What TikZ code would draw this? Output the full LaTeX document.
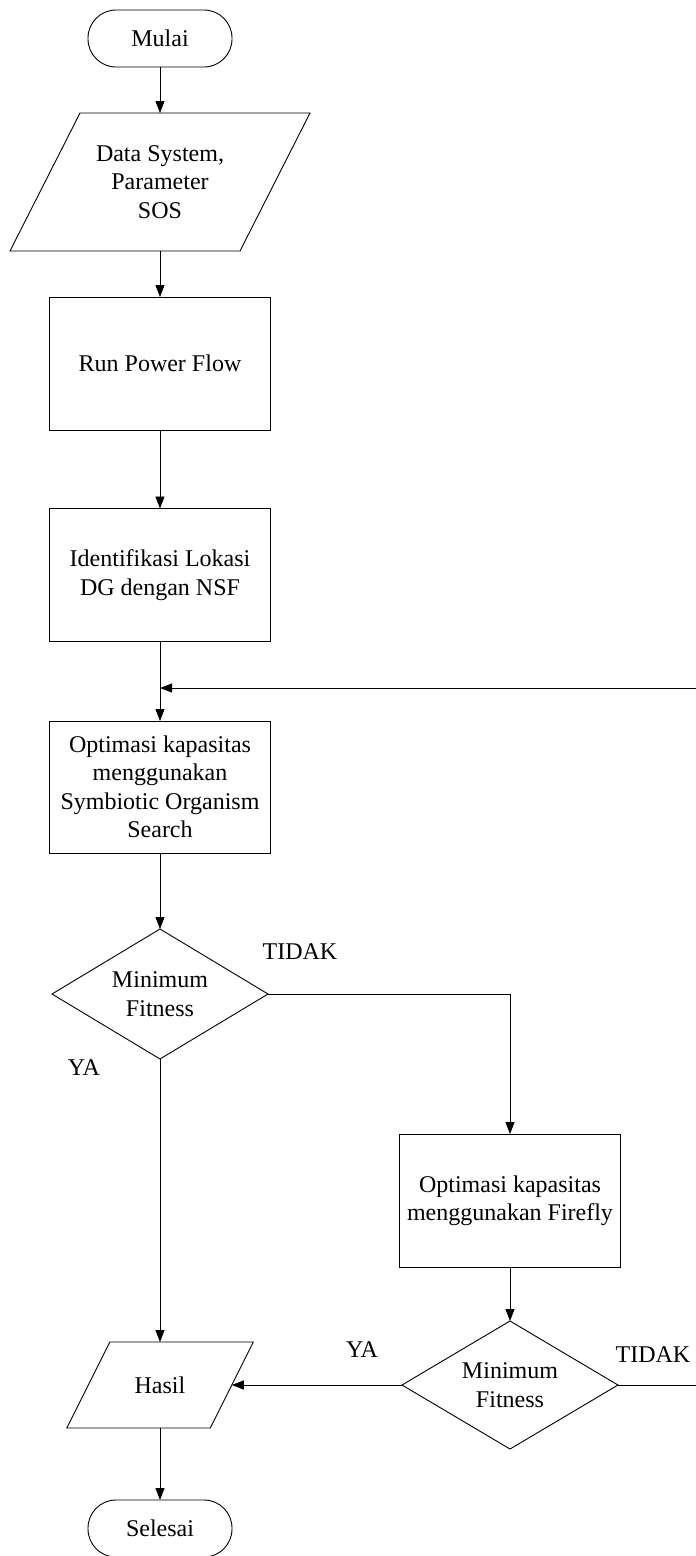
\documentclass[tikz,border=0pt]{standalone}
\usepackage{fontspec}
\setmainfont{Liberation Serif}
\usetikzlibrary{shapes.geometric,arrows.meta}

\begin{document}
\begin{tikzpicture}[x=1pt,y=-1pt,
  line width=0.9pt,
  every node/.style={font=\fontsize{24}{28.5}\selectfont, align=center, inner sep=0pt, outer sep=0pt},
  terminal/.style={draw, rectangle, rounded corners=28pt, minimum width=144pt, minimum height=57pt},
  process/.style={draw, rectangle, minimum width=221pt, minimum height=133pt},
  decision/.style={draw, diamond, aspect=1.66, minimum width=216pt, minimum height=130pt},
  io/.style={rectangle},
  flow/.style={-{Triangle[length=12pt,width=9pt]}},
  tag/.style={anchor=center}
]
  \useasboundingbox (0,0) rectangle (696,1556);

  % main column
  \node[terminal] (mulai) at (160,38.5) {Mulai};
  \node[io, minimum width=230pt, minimum height=138pt] (data) at (160,182)
       {Data System,\\Parameter\\SOS};
  \node[process] (run) at (160,363.5) {Run Power Flow};
  \node[process] (ident) at (160,575) {Identifikasi Lokasi\\DG dengan NSF};
  \node[process, minimum height=132pt] (sos) at (160,787)
       {Optimasi kapasitas\\menggunakan\\Symbiotic Organism\\Search};
  \node[decision] (fit1) at (160,994) {Minimum\\Fitness};
  \node[io, minimum width=143.5pt, minimum height=86pt] (hasil) at (160,1385) {Hasil};
  \node[terminal] (selesai) at (160,1528.5) {Selesai};

  % slanted outlines of the input/output boxes
  \draw ([xshift=35pt]data.north west) -- ([xshift=35pt]data.north east)
     -- ([xshift=-35pt]data.south east) -- ([xshift=-35pt]data.south west) -- cycle;
  \draw ([xshift=21.5pt]hasil.north west) -- ([xshift=21.5pt]hasil.north east)
     -- ([xshift=-21.5pt]hasil.south east) -- ([xshift=-21.5pt]hasil.south west) -- cycle;

  % firefly branch
  \node[process] (ff) at (510,1200.5) {Optimasi kapasitas\\menggunakan Firefly};
  \node[decision, minimum height=128pt] (fit2) at (510,1385) {Minimum\\Fitness};

  % loop-back ends at the right margin
  \coordinate (loopin) at (696,688);
  \coordinate (loopout) at (696,1385);

  % connectors
  \draw[flow] (mulai) -- (data);
  \draw[flow] (data) -- (run);
  \draw[flow] (run) -- (ident);
  \draw[flow] (ident) -- (sos);
  \draw[flow] (loopin) -- (loopin -| ident.south);
  \draw[flow] (sos) -- (fit1);
  \draw[flow] (fit1.east) -| (ff.north);
  \draw[flow] (fit1.south) -- (hasil.north);
  \draw[flow] (ff) -- (fit2);
  \draw[flow] (fit2.west) -- (hasil.east);
  \draw (fit2.east) -- (loopout);
  \draw[flow] (hasil) -- (selesai);

  % branch labels
  \node[tag] (t1) at (300,952) {TIDAK};
  \node[tag] (y1) at (84,1068) {YA};
  \node[tag] (y2) at (362,1350) {YA};
  \node[tag] (t2) at (653,1355) {TIDAK};
\end{tikzpicture}
\end{document}
